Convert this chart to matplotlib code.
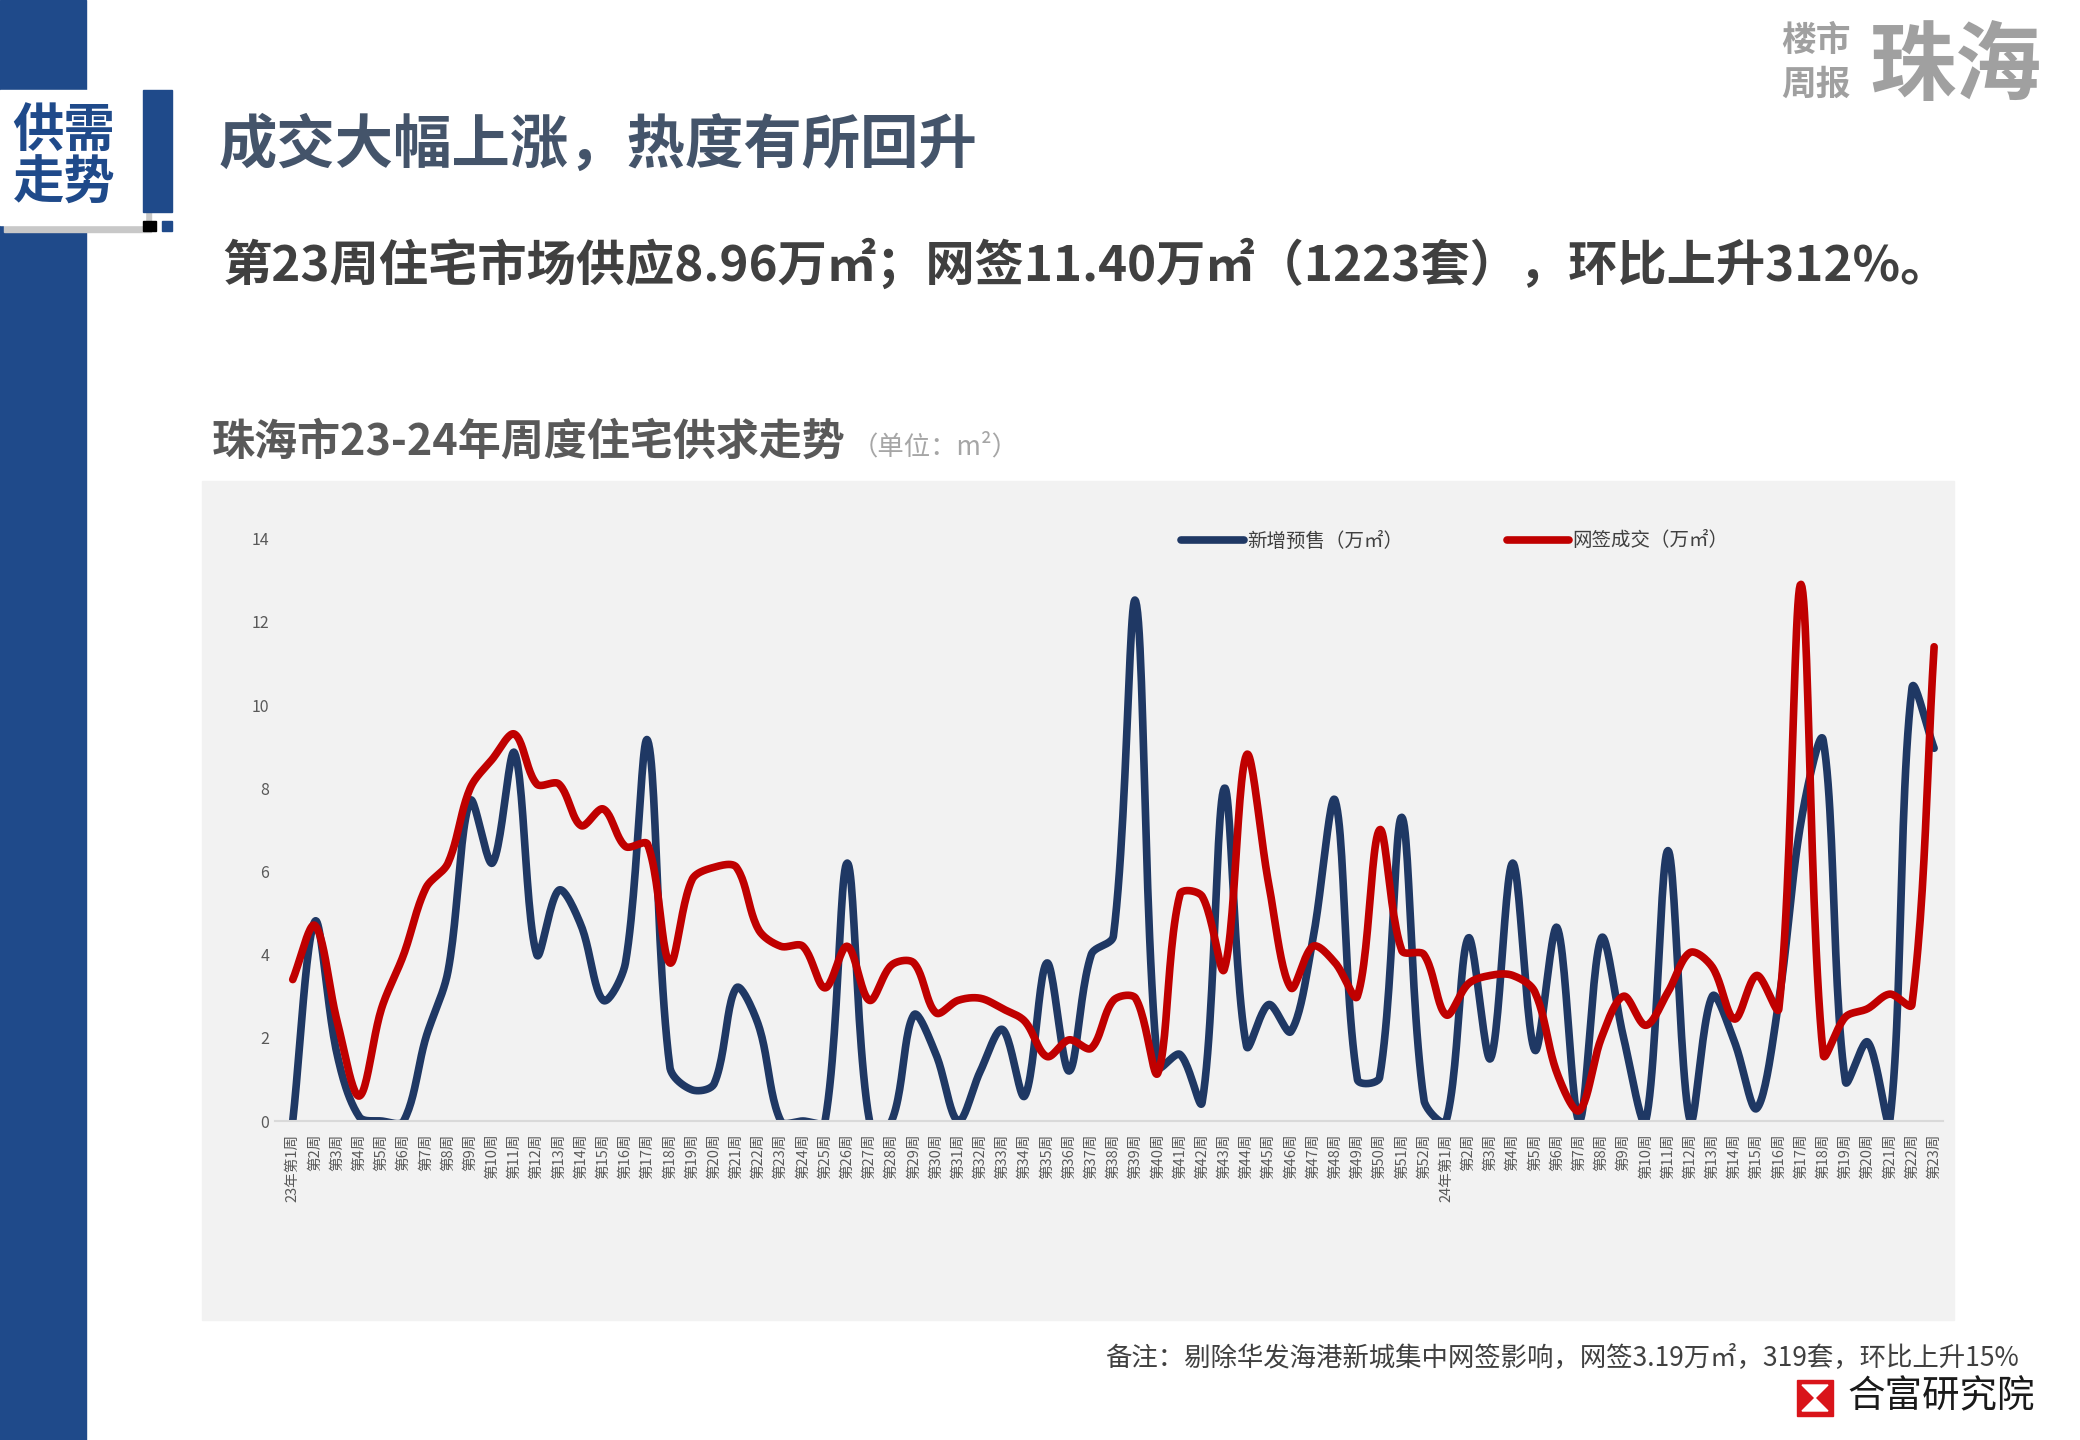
import numpy as np
import matplotlib.pyplot as plt
from matplotlib.patches import Rectangle, Polygon

plt.rcParams['font.family'] = ['Noto Sans CJK SC', 'DejaVu Sans']

# x categories: 2023 weeks 1-52, 2024 weeks 1-23
weeks = (['23年第1周'] + ['第%d周' % w for w in range(2, 53)]
         + ['24年第1周'] + ['第%d周' % w for w in range(2, 24)])

# 新增预售 (万㎡)
supply = [0, 4.8, 1.6, 0.1, 0, 0, 2.0, 3.6, 7.7, 6.2,
          8.85, 4.0, 5.55, 4.7, 2.9, 3.8, 9.15, 1.3, 0.75, 0.9,
          3.2, 2.3, 0, 0, 0, 6.2, 0, 0, 2.55, 1.6,
          0, 1.2, 2.2, 0.6, 3.8, 1.2, 4.0, 4.45, 12.5, 1.3,
          1.6, 0.45, 8.0, 1.8, 2.8, 2.15, 4.4, 7.7, 1.0, 1.05,
          7.3, 0.5, 0, 4.4, 1.5, 6.2, 1.7, 4.65, 0, 4.4,
          2.0, 0, 6.5, 0, 3.0, 1.9, 0.3, 2.9, 7.2, 9.15,
          0.95, 1.9, 0, 10.4, 8.96]

# 网签成交 (万㎡)
deal = [3.4, 4.7, 2.4, 0.6, 2.7, 4.0, 5.6, 6.2, 8.0, 8.7,
        9.3, 8.1, 8.1, 7.1, 7.5, 6.6, 6.65, 3.8, 5.8, 6.1,
        6.1, 4.6, 4.2, 4.2, 3.2, 4.2, 2.9, 3.75, 3.8, 2.6,
        2.9, 2.95, 2.7, 2.4, 1.55, 1.95, 1.75, 2.9, 2.95, 1.15,
        5.45, 5.4, 3.65, 8.8, 5.7, 3.2, 4.2, 3.8, 3.0, 7.0,
        4.1, 4.0, 2.55, 3.3, 3.5, 3.5, 3.1, 1.15, 0.25, 2.0,
        3.0, 2.3, 3.1, 4.05, 3.7, 2.45, 3.5, 2.7, 12.9, 1.6,
        2.5, 2.7, 3.05, 2.8, 11.4]

BLUE = '#1F3864'
RED = '#C00000'


def smooth(y, xs=22.18, ys=41.6, n=24):
    # Excel-like smoothed line: bezier through every point,
    # control arms scaled by neighbouring segment lengths (in pixels)
    y = np.asarray(y, dtype=float)
    x = np.arange(len(y), dtype=float)
    pts = np.column_stack([x * xs, y * ys])
    npt = len(pts)
    seg = np.hypot(*np.diff(pts, axis=0).T)
    out = []
    t = np.linspace(0, 1, n, endpoint=False)[:, None]

    def arm(i, side):
        # side=+1: control after point i, side=-1: control before point i
        p_prev = pts[max(i - 1, 0)]
        p_next = pts[min(i + 1, npt - 1)]
        d_prev = seg[i - 1] if i > 0 else 0.0
        d_next = seg[i] if i < npt - 1 else 0.0
        tot = d_prev + d_next
        if tot == 0:
            return pts[i]
        frac = (d_next if side > 0 else d_prev) / tot
        return pts[i] + side * (p_next - p_prev) * frac / 3

    for i in range(npt - 1):
        p1, p2 = pts[i], pts[i + 1]
        c1 = arm(i, 1)
        c2 = arm(i + 1, -1)
        b = ((1 - t) ** 3 * p1 + 3 * (1 - t) ** 2 * t * c1
             + 3 * (1 - t) * t ** 2 * c2 + t ** 3 * p2)
        out.append(b)
    out.append(pts[-1:])
    out = np.vstack(out)
    return out[:, 0] / xs, out[:, 1] / ys


fig = plt.figure(figsize=(20.8, 14.4), dpi=100)
W, H = 2080, 1440


def fx(px):
    return px / W


def fy(py):
    return 1 - py / H


# left blue band and header box
fig.patches.append(Rectangle((0, 0), fx(86), 1, transform=fig.transFigure,
                             color='#1F4A8A', zorder=0))
fig.patches.append(Rectangle((fx(4), fy(232)), fx(147), 135 / H, transform=fig.transFigure,
                             color='#C8C8C8', zorder=1))
fig.patches.append(Rectangle((0, fy(225)), fx(145), 135 / H, transform=fig.transFigure,
                             color='white', zorder=2))
fig.patches.append(Rectangle((fx(143), fy(212)), fx(29), 122 / H, transform=fig.transFigure,
                             color='#1F4A8A', zorder=2))
fig.patches.append(Rectangle((fx(143), fy(231)), fx(13), 10 / H, transform=fig.transFigure,
                             color='black', zorder=2))
fig.patches.append(Rectangle((fx(162), fy(231)), fx(10), 10 / H, transform=fig.transFigure,
                             color='#1F4A8A', zorder=2))
fig.text(fx(64), fy(157), '供需\n走势', fontsize=37, fontweight='bold', color='#1F4A8A',
         ha='center', va='center', linespacing=1.0, zorder=3)

# titles
fig.text(fx(219), fy(146), '成交大幅上涨，热度有所回升', fontsize=42, fontweight='bold',
         color='#44546A', ha='left', va='center')
fig.text(fx(222), fy(265), '第23周住宅市场供应8.96万㎡；网签11.40万㎡（1223套），环比上升312%。',
         fontsize=35.5, fontweight='bold', color='#404040', ha='left', va='center')

# top-right mark
fig.text(fx(1816), fy(40), '楼市', fontsize=25, fontweight='bold', color='#A0A0A0',
         ha='center', va='center')
fig.text(fx(1816), fy(84), '周报', fontsize=25, fontweight='bold', color='#A0A0A0',
         ha='center', va='center')
fig.text(fx(1955), fy(68), '珠海', fontsize=62, fontweight='bold', color='#A0A0A0',
         ha='center', va='center')

# chart title
fig.text(fx(212), fy(442), '珠海市23-24年周度住宅供求走势', fontsize=31, fontweight='bold',
         color='#595959', ha='left', va='center')
fig.text(fx(852), fy(447), '（单位：m²）', fontsize=19, style='italic',
         color='#A6A6A6', ha='left', va='center')

# chart panel
fig.patches.append(Rectangle((fx(202), fy(1320)), fx(1954 - 202), (1320 - 481) / H,
                             transform=fig.transFigure, color='#F2F2F2', zorder=0))

ax = fig.add_axes([fx(275), fy(1121), fx(1943 - 275), (1121 - 538.6) / H])
ax.set_zorder(5)
ax.set_facecolor('none')
x = np.arange(len(weeks))
sx, sy = smooth(supply)
ax.plot(sx, sy, color=BLUE, lw=5.5, solid_capstyle='round', label='新增预售（万㎡）')
dx, dy = smooth(deal)
ax.plot(dx, dy, color=RED, lw=5.5, solid_capstyle='round', label='网签成交（万㎡）')

ax.set_xlim(-0.8, 74.4)
ax.set_ylim(0, 14)
ax.set_yticks(range(0, 15, 2))
ax.set_xticks(x)
ax.set_xticklabels(weeks, rotation=90, fontsize=10.5, color='#595959')
ax.tick_params(axis='x', length=0, pad=9)
ax.tick_params(axis='y', length=0, pad=4, labelsize=11.5, labelcolor='#595959')
for s in ['top', 'right', 'left']:
    ax.spines[s].set_visible(False)
ax.spines['bottom'].set_color('#D9D9D9')
ax.spines['bottom'].set_linewidth(1.5)

leg = ax.legend(loc='center', bbox_to_anchor=(fx(1455), fy(541)), bbox_transform=fig.transFigure,
                ncol=2, frameon=False, fontsize=14, handlelength=3.2, handletextpad=0.2,
                columnspacing=5.3)
for t in leg.get_texts():
    t.set_color('#404040')

# footnote and logo
fig.text(fx(2019), fy(1358), '备注：剔除华发海港新城集中网签影响，网签3.19万㎡，319套，环比上升15%',
         fontsize=19, color='#404040', ha='right', va='center')
fig.patches.append(Rectangle((fx(1797), fy(1416)), fx(36), 36 / H, transform=fig.transFigure,
                             color='#D9141A', zorder=2))
fig.patches.append(Polygon([(fx(1802), fy(1385)), (fx(1828), fy(1385)), (fx(1815), fy(1398)),
                            (fx(1828), fy(1411)), (fx(1802), fy(1411)), (fx(1815), fy(1398))],
                           closed=True, transform=fig.transFigure, color='white', zorder=3))
fig.text(fx(1847), fy(1397), '合富研究院', fontsize=27, color='#1A1A1A', ha='left', va='center')

fig.savefig('out.png', dpi=100)
